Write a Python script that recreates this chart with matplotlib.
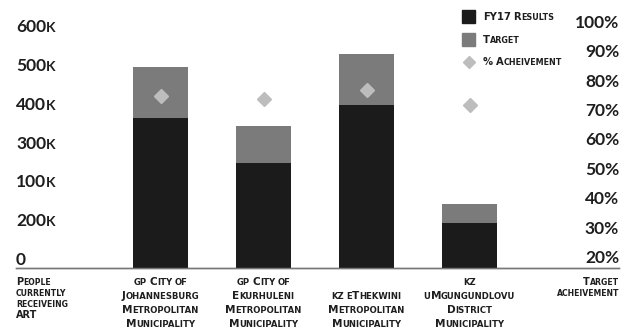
#! /usr/bin/env python3
import matplotlib
matplotlib.use('Agg')
import matplotlib.pyplot as plt
import matplotlib.transforms as mtransforms
from matplotlib.offsetbox import (TextArea, HPacker, VPacker, DrawingArea,
                                  AnnotationBbox)
from matplotlib.patches import Rectangle
from matplotlib.lines import Line2D

# ART results per district against target
districts = ['gp City of\nJohannesburg\nMetropolitan\nMunicipality',
             'gp City of\nEkurhuleni\nMetropolitan\nMunicipality',
             'kz eThekwini\nMetropolitan\nMunicipality',
             'kz\nuMgungundlovu\nDistrict\nMunicipality']
results = [387000, 271000, 420000, 116000]
targets = [518000, 366000, 552000, 165000]
achievement = [75, 74, 77, 72]

left_ticks = [0, 100000, 200000, 300000, 400000, 500000, 600000]
left_labels = ['0', '200k', '100k', '300k', '400k', '500k', '600k']
right_ticks = [20, 30, 40, 50, 60, 70, 80, 90, 100]
right_labels = ['20%', '30%', '40%', '50%', '60%', '70%', '80%', '90%', '100%']

BLACK = '#1b1b1b'
GREY = '#7b7b7b'
LIGHT = '#bdbdbd'
INK = '#1e1e1e'
NUM_FONT = 'Lato'
CAP_FONT = 'DejaVu Sans'


def word_box(word, size, color, family):
    # fake small caps: lowercase letters drawn as smaller capitals
    runs = []
    for ch in word:
        small = ch.islower()
        if runs and runs[-1][1] == small:
            runs[-1][0] += ch
        else:
            runs.append([ch, small])
    parts = [TextArea(txt.upper(), textprops=dict(
                 fontsize=size * 0.8 if small else size, color=color,
                 fontweight='bold', family=family))
             for txt, small in runs]
    return HPacker(children=parts, align='baseline', pad=0, sep=0)


def smallcaps(text, size, color=INK, align='center', sep=1.5,
              family=CAP_FONT):
    lines = []
    for line in text.split('\n'):
        words = [word_box(w, size, color, family) for w in line.split(' ')]
        lines.append(HPacker(children=words, align='baseline', pad=0,
                             sep=size * 0.25))
    return VPacker(children=lines, align=align, pad=0, sep=sep)


def place(ax, box, xy, transform, alignment):
    ab = AnnotationBbox(box, xy, xycoords=transform, box_alignment=alignment,
                        frameon=False, pad=0, annotation_clip=False)
    ax.add_artist(ab)


fig = plt.figure(figsize=(6.29, 3.33), dpi=100)
ax = fig.add_axes([16 / 629, 65 / 333, 603 / 629, 256 / 333])
ax2 = ax.twinx()

x = [1, 2, 3, 4]
ax.bar(x, targets, width=0.534, color=GREY, zorder=2)
ax.bar(x, results, width=0.534, color=BLACK, zorder=3)
ax2.plot(x, achievement, linestyle='none', marker='D', markersize=7,
         color=LIGHT, zorder=4)

ax.set_xlim(-0.403, 5.451)
ax.set_ylim(0, 659800)
ax2.set_ylim(16.6, 103.7)

for a in (ax, ax2):
    for side in ['top', 'left', 'right']:
        a.spines[side].set_visible(False)
    a.spines['bottom'].set_color('#777777')
    a.spines['bottom'].set_linewidth(1.0)
    a.set_xticks([])
    a.set_yticks([])

# y labels sit inside the plot area
left_tr = mtransforms.blended_transform_factory(ax.transAxes, ax.transData)
for val, lab in zip(left_ticks, left_labels):
    place(ax, smallcaps(lab, 12.5, family=NUM_FONT), (0, val), left_tr, (0, 0))

right_tr = mtransforms.blended_transform_factory(ax2.transAxes, ax2.transData)
for val, lab in zip(right_ticks, right_labels):
    place(ax2, smallcaps(lab, 12.5, family=NUM_FONT), (1, val), right_tr,
          (1, 0.5))

# category labels under the baseline
cat_tr = mtransforms.blended_transform_factory(ax.transData, fig.transFigure)
for xi, name in zip(x, districts):
    place(ax, smallcaps(name, 7.6, sep=2.8), (xi, 4 / 333), cat_tr, (0.5, 0))

place(ax, smallcaps('People\ncurrently\nreceiveing\nART', 7.0, align='left',
                    sep=1.3), (16 / 629, 1 - 277 / 333), fig.transFigure,
      (0, 1))
place(ax, smallcaps('Target\nacheivement', 7.0, align='right', sep=1.8),
      (619 / 629, 1 - 277 / 333), fig.transFigure, (1, 1))

# legend
rows = []
for kind, label in [('bar', 'FY17 Results'), ('grey', 'Target'),
                    ('dot', '% Acheivement')]:
    da = DrawingArea(9.5, 9.5)
    if kind == 'bar':
        da.add_artist(Rectangle((0, 0), 9.5, 9.5, color=BLACK))
    elif kind == 'grey':
        da.add_artist(Rectangle((0, 0), 9.5, 9.5, color=GREY))
    else:
        da.add_artist(Line2D([4.75], [4.75], marker='D', markersize=6,
                             color=LIGHT, linestyle='none'))
    rows.append(HPacker(children=[da, smallcaps(label, 7.2)],
                        align='center', pad=0, sep=5.5))
legend = VPacker(children=rows, align='left', pad=0, sep=7)
place(ax, legend, (462 / 629, 1 - 10 / 333), fig.transFigure, (0, 1))

fig.savefig('out.png', dpi=100)
